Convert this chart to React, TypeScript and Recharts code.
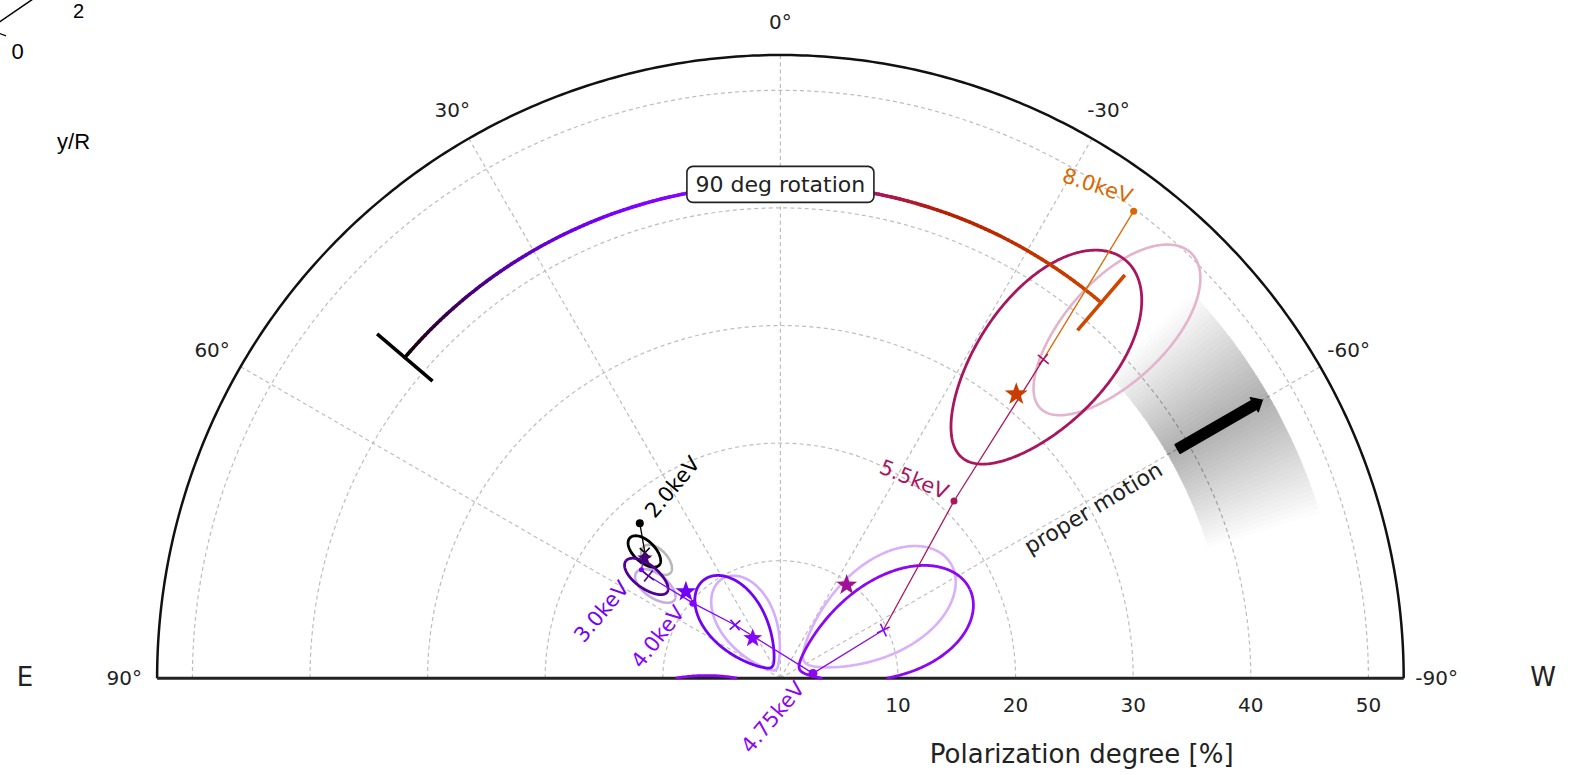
import React from 'react';
import { ScatterChart, Scatter, XAxis, YAxis } from 'recharts';

const W = 1580;
const H = 775;
// pole of the half-polar frame (px) and px per percent of PD
const CX = 780.4;
const CY = 678.3;
const S = 11.76;
const R_MAX = 53;
const RAD = Math.PI / 180;

const X_DOMAIN = [-CX / S, (W - CX) / S];
const Y_DOMAIN = [(CY - H) / S, CY / S];

// track through the energy edges: PD [%], PA [deg]
const edgeLabels = ['2.0keV', '3.0keV', '4.0keV', '4.75keV', '5.5keV', '8.0keV'];
const edgePD = [17.8, 15.0, 9.8, 2.8, 21.1, 49.8];
const edgePA = [42.2, 52.0, 49.3, -81.4, -44.4, -37.1];

// measured value per energy bin (crosses)
const binPD = [15.7, 14.2, 5.95, 9.67, 35.15];
const binPA = [47.2, 52.2, 40.4, -64.9, -39.5];

// confidence contours (Q/U space), centre + semi axes (radial, tangential)
const fitPD = [15.8, 14.3, 5.9, 9.8, 35.2];
const fitPA = [47.0, 52.8, 38, -64.9, -39.5];
const fitSigR = [1.7, 2.2, 4.7, 8.0, 10.9];
const fitSigT = [1.8, 2.0, 4.7, 8.0, 11.0];

// alternative fit contours (drawn light)
const altPD = [14.55, 13.2, 5.3, 9.97, 41.07];
const altPA = [46.3, 53.6, 30, -55.5, -44.0];
const altSigR = [1.6, 2.0, 4.5, 7.5, 9.2];
const altSigT = [1.8, 2.0, 4.5, 7.5, 8.6];

// model prediction per bin (stars)
const modelPD = [15.4, 10.9, 4.14, 9.73, 31.4];
const modelPA = [48.4, 47.5, 34.7, -35.4, -39.7];

// axes
const radialTicks = [10, 20, 30, 40, 50];
const angleTicks = [90, 60, 30, 0, -30, -60, -90];
const spokeAngles = [60, 30, 0, -30, -60];

// 90 deg rotation bar
const rotationPD = 42;
const rotationFrom = 49.5;
const rotationTo = -40.5;

// proper motion direction and its spread
const motionPA = -60;
const motionFrom = 39;
const motionTo = 47.3;
const motionCentre = -60;
const motionHalf = 13;
const motionBand = [38, 48];

// colour map positions
const edgeTone = [0, 0.2, 0.27, 0.31, 0.44, 0.74];
const binTone = [0, 0.1, 0.2, 0.3, 0.44];
const modelTone = [0.08, 0.2, 0.27, 0.4, 0.62];
const starSize = [8, 11, 10, 11, 12];
const dotSize = [4, 2.5, 3.5, 4.5, 3.5, 3.5];

// where the energy labels sit (data units) and their rotation
const labelAt = [
  { x: -9.17, y: 16.25, rot: -50 },
  { x: -15.2, y: 5.67, rot: -50 },
  { x: -10.41, y: 3.53, rot: -52 },
  { x: -0.63, y: -3.32, rot: -50 },
  { x: 11.36, y: 16.9, rot: 22 },
  { x: 26.96, y: 41.86, rot: 18 },
];

const FONT = '"DejaVu Sans", sans-serif';
const GRID = '#bdbdbd';

type P = { x: number; y: number };

const gnuplot = (t: number) => {
  const hex = (v: number) => Math.round(Math.max(0, Math.min(1, v)) * 255).toString(16).padStart(2, '0');
  return `#${hex(Math.sqrt(t))}${hex(t ** 3)}${hex(Math.sin(2 * Math.PI * t))}`;
};

const tint = (c: string, a: number) => {
  const v = [1, 3, 5].map((i) => parseInt(c.slice(i, i + 2), 16));
  return '#' + v.map((x) => Math.round(255 - a * (255 - x)).toString(16).padStart(2, '0')).join('');
};

const pol = (pd: number, pa: number): P => ({ x: -pd * Math.sin(pa * RAD), y: pd * Math.cos(pa * RAD) });

const arcPts = (pd: number, from: number, to: number, step = 0.5) => {
  const n = Math.max(1, Math.round(Math.abs(to - from) / step));
  return Array.from({ length: n + 1 }, (_, i) => pol(pd, from + ((to - from) * i) / n));
};

// Q/U ellipse mapped to PD/PA; PA wraps at +-90 so the outline may split
const contour = (pd: number, pa: number, sr: number, st: number, n = 360) => {
  const c2 = 2 * pa * RAD;
  const q0 = pd * Math.cos(c2);
  const u0 = pd * Math.sin(c2);
  const segs: P[][] = [[]];
  let prev: number | null = null;
  for (let i = 0; i <= n; i++) {
    const t = (2 * Math.PI * i) / n;
    const a = sr * Math.cos(t);
    const b = st * Math.sin(t);
    const q = q0 + a * Math.cos(c2) - b * Math.sin(c2);
    const u = u0 + a * Math.sin(c2) + b * Math.cos(c2);
    const psi = (0.5 * Math.atan2(u, q)) / RAD;
    if (prev !== null && Math.abs(psi - prev) > 60) segs.push([]);
    segs[segs.length - 1].push(pol(Math.hypot(q, u), psi));
    prev = psi;
  }
  return segs.filter((s) => s.length > 1);
};

const noDot = () => <g />;

const pathD = (pts: P[], close = false) =>
  pts.map((p, i) => `${i ? 'L' : 'M'}${p.x.toFixed(2)},${p.y.toFixed(2)}`).join('') + (close ? 'Z' : '');

const polyline = (key: string, pts: P[], stroke: string, width: number, dash?: string) => (
  <Scatter
    key={key}
    data={pts}
    line={{ stroke, strokeWidth: width, strokeDasharray: dash }}
    lineJointType="linear"
    shape={noDot}
    isAnimationActive={false}
  />
);

const filled = (key: string, pts: P[], fill: string, opacity: number) => (
  <Scatter
    key={key}
    data={pts}
    line={(p: any) => <path d={pathD(p.points, true)} fill={fill} fillOpacity={opacity} stroke="none" />}
    shape={noDot}
    isAnimationActive={false}
  />
);

const marker = (key: string, at: P, draw: (cx: number, cy: number) => React.ReactElement) => (
  <Scatter key={key} data={[at]} shape={(p: any) => draw(p.cx, p.cy)} isAnimationActive={false} />
);

const text = (
  key: string,
  at: P,
  str: string,
  o: { size: number; color?: string; rot?: number; anchor?: string; family?: string; base?: boolean },
) =>
  marker(key, at, (cx, cy) => (
    <text
      x={cx}
      y={cy}
      fontSize={o.size}
      fill={o.color ?? '#222'}
      fontFamily={o.family ?? FONT}
      textAnchor={(o.anchor ?? 'middle') as any}
      dominantBaseline={o.base ? 'alphabetic' : 'central'}
      transform={o.rot ? `rotate(${o.rot} ${cx} ${cy})` : undefined}
    >
      {str}
    </text>
  ));

const starPoints = (cx: number, cy: number, r: number) =>
  Array.from({ length: 10 }, (_, i) => {
    const rr = i % 2 ? r * 0.4 : r;
    const a = -Math.PI / 2 + (i * Math.PI) / 5;
    return `${cx + rr * Math.cos(a)},${cy + rr * Math.sin(a)}`;
  }).join(' ');

const arrowShape = (p: any) => {
  const [a, b] = p.points as P[];
  const dx = b.x - a.x;
  const dy = b.y - a.y;
  const len = Math.hypot(dx, dy);
  const ux = dx / len;
  const uy = dy / len;
  const nx = -uy;
  const ny = ux;
  const hw = 5;
  const hh = 8;
  const hl = 9;
  const bx = b.x - ux * hl;
  const by = b.y - uy * hl;
  const pts = [
    [a.x + nx * hw, a.y + ny * hw],
    [bx + nx * hw, by + ny * hw],
    [bx + nx * hh, by + ny * hh],
    [b.x, b.y],
    [bx - nx * hh, by - ny * hh],
    [bx - nx * hw, by - ny * hw],
    [a.x - nx * hw, a.y - ny * hw],
  ];
  return <polygon points={pts.map((q) => q.join(',')).join(' ')} fill="#000" stroke="#000" strokeWidth={1.5} strokeLinejoin="round" />;
};

const gradientArc = (t0: number, t1: number) => (p: any) => {
  const pts = p.points as P[];
  return (
    <g>
      {pts.slice(1).map((q, i) => (
        <line
          key={i}
          x1={pts[i].x}
          y1={pts[i].y}
          x2={q.x}
          y2={q.y}
          stroke={gnuplot(t0 + ((t1 - t0) * i) / (pts.length - 2))}
          strokeWidth={3.5}
          strokeLinecap="round"
        />
      ))}
    </g>
  );
};

export default function App() {
  const items: React.ReactElement[] = [];

  // grid
  radialTicks.forEach((r) => items.push(polyline(`gc${r}`, arcPts(r, 90, -90, 1), GRID, 1.2, '4 3.2')));
  spokeAngles.forEach((a) => items.push(polyline(`gs${a}`, [pol(0, a), pol(R_MAX, a)], GRID, 1.2, '4 3.2')));

  // proper-motion spread, stacked translucent wedges
  const layers = 26;
  for (let k = 1; k <= layers; k++) {
    const h = (motionHalf * k) / layers;
    const pts = [
      ...arcPts(motionBand[1], motionCentre + h, motionCentre - h, 0.25),
      ...arcPts(motionBand[0], motionCentre - h, motionCentre + h, 0.25),
    ];
    items.push(filled(`pm${k}`, pts, '#000', 0.012));
  }

  // frame
  items.push(polyline('outer', arcPts(R_MAX, 90, -90, 0.5), '#111', 2.5));
  items.push(polyline('base', [pol(R_MAX, 90), pol(R_MAX, -90)], '#222', 3));

  // contours: light set first, then the main fit
  altPD.forEach((_, i) => {
    const c = i === 0 ? '#b8b8b8' : tint(gnuplot(binTone[i]), 0.32);
    contour(altPD[i], altPA[i], altSigR[i], altSigT[i]).forEach((seg, j) =>
      items.push(polyline(`alt${i}-${j}`, seg, c, 2.6)),
    );
  });
  fitPD.forEach((_, i) => {
    const c = gnuplot(binTone[i]);
    contour(fitPD[i], fitPA[i], fitSigR[i], fitSigT[i]).forEach((seg, j) =>
      items.push(polyline(`fit${i}-${j}`, seg, c, 2.8)),
    );
  });

  // proper motion arrow
  items.push(
    <Scatter
      key="arrow"
      data={[pol(motionFrom, motionPA), pol(motionTo, motionPA)]}
      line={arrowShape}
      shape={noDot}
      isAnimationActive={false}
    />,
  );

  // 90 deg rotation bar with end caps
  items.push(
    <Scatter
      key="rot"
      data={arcPts(rotationPD, rotationFrom, rotationTo, 0.5)}
      line={gradientArc(0, 0.65)}
      shape={noDot}
      isAnimationActive={false}
    />,
  );
  items.push(polyline('capL', [pol(rotationPD - 3.1, rotationFrom), pol(rotationPD + 3.1, rotationFrom)], '#000', 3.5));
  items.push(polyline('capR', [pol(rotationPD - 3.1, rotationTo), pol(rotationPD + 3.1, rotationTo)], gnuplot(0.65), 3.5));
  items.push(
    marker('rotlabel', pol(rotationPD, 0), (cx, cy) => (
      <g>
        <rect x={cx - 93.5} y={cy - 18} width={187} height={36} rx={6} fill="#fff" stroke="#222" strokeWidth={1.6} />
        <text x={cx} y={cy} fontSize={22} fontFamily={FONT} fill="#222" textAnchor="middle" dominantBaseline="central">
          90 deg rotation
        </text>
      </g>
    )),
  );

  // energy track: edge -> bin value -> next edge
  binPD.forEach((_, i) => {
    const a = pol(edgePD[i], edgePA[i]);
    const m = pol(binPD[i], binPA[i]);
    const b = pol(edgePD[i + 1], edgePA[i + 1]);
    items.push(polyline(`tr${i}a`, [a, m], gnuplot(edgeTone[i]), 1.3));
    items.push(polyline(`tr${i}b`, [m, b], gnuplot(edgeTone[i + 1]), 1.3));
  });

  binPD.forEach((_, i) =>
    items.push(
      marker(`x${i}`, pol(binPD[i], binPA[i]), (cx, cy) => (
        <g transform={`rotate(${-binPA[i]} ${cx} ${cy})`} stroke={gnuplot(binTone[i])} strokeWidth={1.6}>
          <line x1={cx - 7} y1={cy} x2={cx + 7} y2={cy} />
          <line x1={cx} y1={cy - 7} x2={cx} y2={cy + 7} />
        </g>
      )),
    ),
  );

  edgePD.forEach((_, i) =>
    items.push(
      marker(`d${i}`, pol(edgePD[i], edgePA[i]), (cx, cy) => <circle cx={cx} cy={cy} r={dotSize[i]} fill={gnuplot(edgeTone[i])} />),
    ),
  );

  modelPD.forEach((_, i) =>
    items.push(
      marker(`st${i}`, pol(modelPD[i], modelPA[i]), (cx, cy) => (
        <polygon points={starPoints(cx, cy, starSize[i])} fill={gnuplot(modelTone[i])} />
      )),
    ),
  );

  edgeLabels.forEach((l, i) =>
    items.push(
      text(`el${i}`, { x: labelAt[i].x, y: labelAt[i].y }, l, { size: 21, color: gnuplot(edgeTone[i]), rot: labelAt[i].rot }),
    ),
  );

  items.push(text('pmtext', { x: 26.61, y: 14.48 }, 'proper motion', { size: 22, rot: -31 }));

  // tick labels
  angleTicks.forEach((a) => items.push(text(`at${a}`, pol(55.8, a), `${a}°`, { size: 20 })));
  radialTicks.forEach((r) => items.push(text(`rt${r}`, { x: r, y: -2.27 }, `${r}`, { size: 20 })));
  items.push(text('xlabel', { x: 25.62, y: -6.41 }, 'Polarization degree [%]', { size: 26 }));
  items.push(text('east', { x: -64.23, y: 0.1 }, 'E', { size: 26 }));
  items.push(text('west', { x: 64.85, y: 0.13 }, 'W', { size: 26 }));

  // corner of the neighbouring panel
  const HELV = '"Liberation Sans", Arial, sans-serif';
  items.push(polyline('nb1', [{ x: -66.5, y: 55.75 }, { x: -63.5, y: 57.8 }], '#000', 1.5));
  items.push(polyline('nb2', [{ x: -66.5, y: 54.87 }, { x: -65.85, y: 54.63 }], '#000', 1.2));
  items.push(text('nb2t', { x: -59.69, y: 56.12 }, '2', { size: 20, family: HELV, base: true, color: '#000' }));
  items.push(text('nb0t', { x: -64.87, y: 52.64 }, '0', { size: 22, family: HELV, base: true, color: '#000' }));
  items.push(text('nbyr', { x: -60.1, y: 45.0 }, 'y/R', { size: 22, family: HELV, base: true, color: '#000' }));

  return (
    <div style={{ position: 'absolute', left: 0, top: 0, width: W, height: H, background: '#fff' }}>
      <ScatterChart width={W} height={H} margin={{ top: 0, right: 0, bottom: 0, left: 0 }}>
        <XAxis type="number" dataKey="x" domain={X_DOMAIN} hide allowDataOverflow />
        <YAxis type="number" dataKey="y" domain={Y_DOMAIN} hide allowDataOverflow />
        {items}
      </ScatterChart>
    </div>
  );
}
